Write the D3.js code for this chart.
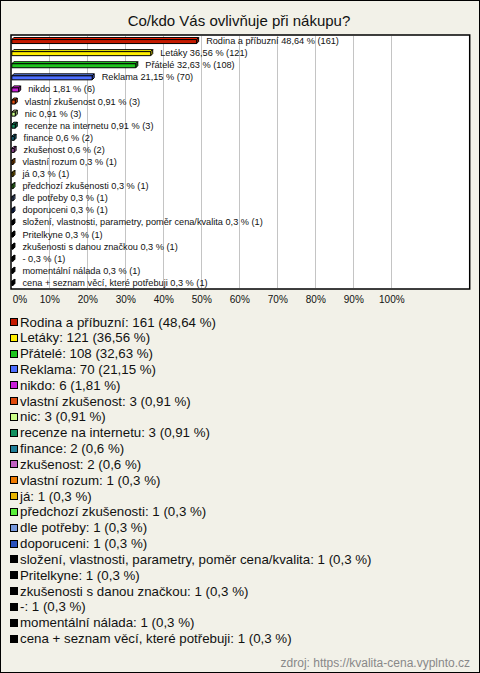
<!DOCTYPE html>
<html><head><meta charset="utf-8">
<script src="https://cdn.jsdelivr.net/npm/d3@7"></script>
<style>body{margin:0;background:#fff;}svg{display:block;font-family:"Liberation Sans",Arial,sans-serif;}</style>
</head><body>
<svg id="c" width="480" height="673"></svg>
<script>
const categories = ["Rodina a příbuzní","Letáky","Přátelé","Reklama","nikdo","vlastní zkušenost","nic","recenze na internetu","finance","zkušenost","vlastní rozum","já","předchozí zkušenosti","dle potřeby","doporuceni","složení, vlastnosti, parametry, poměr cena/kvalita","Pritelkyne","zkušenosti s danou značkou","-","momentální nálada","cena + seznam věcí, které potřebuji"];
const counts = [161,121,108,70,6,3,3,3,2,2,1,1,1,1,1,1,1,1,1,1,1];
const percents = [48.64,36.56,32.63,21.15,1.81,0.91,0.91,0.91,0.6,0.6,0.3,0.3,0.3,0.3,0.3,0.3,0.3,0.3,0.3,0.3,0.3];
const percentLabels = ["48,64","36,56","32,63","21,15","1,81","0,91","0,91","0,91","0,6","0,6","0,3","0,3","0,3","0,3","0,3","0,3","0,3","0,3","0,3","0,3","0,3"];
const colors = ["#c41a00","#ffee00","#1ec41e","#4d6eff","#c81ed8","#e04a0c","#ccff88","#129060","#1f7f99","#c060c0","#ee7a00","#e8b400","#5aee3a","#7799dd","#2a52be","#000","#000","#000","#000","#000","#000"];
const tickValues = [0,10,20,30,40,50,60,70,80,90,100];
const title = "Co/kdo Vás ovlivňuje při nákupu?";
const source = "zdroj: https://kvalita-cena.vyplnto.cz";

const svg = d3.select("#c");
svg.append("rect").attr("x",0.5).attr("y",0.5).attr("width",479).attr("height",672).attr("fill","#f2f1e8").attr("stroke","#000");
svg.append("text").attr("x",239).attr("y",26).attr("text-anchor","middle").attr("font-size",15).attr("fill","#111").text(title);

const plotL = 11.3, plotR = 470, plotT = 35, plotB = 289;
const x = d3.scaleLinear().domain([0,100]).range([plotL, plotL+380]);
const y = d3.scaleBand().domain(categories).range([plotT, plotB]);

svg.append("rect").attr("x",plotL-0.3).attr("y",plotT).attr("width",plotR-plotL).attr("height",plotB-plotT).attr("fill","#fff").attr("stroke","#000").attr("stroke-width",1.5);
svg.append("g").selectAll("line").data(tickValues.slice(1)).join("line")
  .attr("x1",d=>Math.round(x(d))+0.5).attr("x2",d=>Math.round(x(d))+0.5)
  .attr("y1",plotT+1).attr("y2",plotB-1).attr("stroke","#c4c4c4");

const data = categories.map((c,i)=>({c,n:counts[i],p:percents[i],pl:percentLabels[i],col:colors[i]}));
const h = 4, d = 2;
const bars = svg.append("g");
data.forEach(o=>{
  const cy = y(o.c) + y.bandwidth()/2;
  const x0 = x(0)+0.5, x1 = x(o.p)+0.5, yt = cy-1.5;
  const base = d3.color(o.col);
  const g = bars.append("g").attr("stroke","#000").attr("stroke-width",1).attr("stroke-linejoin","round");
  g.append("path").attr("d",`M${x0},${yt}L${x0+d},${yt-d}L${x1+d},${yt-d}L${x1},${yt}Z`).attr("fill",base.brighter(0.6));
  g.append("path").attr("d",`M${x1},${yt}L${x1+d},${yt-d}L${x1+d},${yt+h-d}L${x1},${yt+h}Z`).attr("fill",base.darker(0.6));
  g.append("rect").attr("x",x0).attr("y",yt).attr("width",x1-x0).attr("height",h).attr("fill",o.col);
  svg.append("text").attr("x",x(o.p)+10).attr("y",cy+3).attr("font-size",9.2).attr("fill","#111")
    .text(`${o.c} ${o.pl} % (${o.n})`);
});

const axis = d3.axisBottom(x).tickValues(tickValues).tickSize(0).tickPadding(0).tickFormat(v=>v+"%");
const ag = svg.append("g").attr("transform",`translate(0,${plotB+14})`).call(axis);
ag.select(".domain").remove();
ag.selectAll("text").attr("font-size",10).attr("fill","#111").attr("font-family","Liberation Sans, Arial, sans-serif").attr("dy","0");
ag.selectAll(".tick").filter(v=>v===0).select("text").attr("text-anchor","start").attr("x",1);

const ly = d3.scaleLinear().domain([0, categories.length-1]).range([322, 638.5]);
const lg = svg.append("g");
data.forEach((o,i)=>{
  const cy = ly(i);
  lg.append("rect").attr("x",10.5).attr("y",Math.round(cy-4)+0.5).attr("width",7).attr("height",7).attr("fill",o.col).attr("stroke","#000");
  lg.append("text").attr("x",20).attr("y",cy+4.5).attr("font-size",13.3).attr("fill","#111").text(`${o.c}: ${o.n} (${o.pl} %)`);
});

svg.append("text").attr("x",470).attr("y",667).attr("text-anchor","end").attr("font-size",12).attr("fill","#888").text(source);
</script>
</body></html>
